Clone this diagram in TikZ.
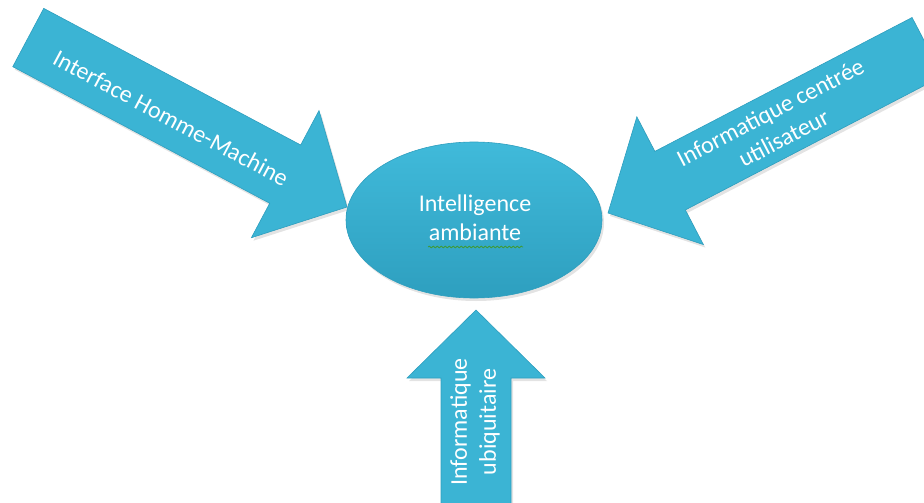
\documentclass[tikz,border=0pt]{standalone}
\usepackage{fontspec}
\setmainfont{Carlito}
\usetikzlibrary{shapes.geometric,shadows,decorations.pathmorphing}
\definecolor{arrowfill}{HTML}{3BB4D4}
\definecolor{arrowedge}{HTML}{2E9EBE}
\definecolor{elltop}{HTML}{40BADA}
\definecolor{ellbot}{HTML}{2E9FBF}
\definecolor{squig}{HTML}{3E9A3A}
\tikzset{
  blockarrow/.style={fill=arrowfill, draw=arrowedge, line width=0.6pt,
    drop shadow={opacity=0.22, shadow xshift=2pt, shadow yshift=-3pt}},
  lbl/.style={text=white, font=\fontsize{24}{29}\selectfont, align=center, inner sep=0pt},
}
\begin{document}
\begin{tikzpicture}[x=1pt,y=-1pt]
\useasboundingbox (0,0) rectangle (924,503);
\clip (0,0) rectangle (924,503);
% left arrow
\begin{scope}[shift={(347,207)}, rotate=-28]
  \path[blockarrow] (0,0) -- (-70,-72) -- (-70,-33) -- (-361,-33) -- (-361,33) -- (-70,33) -- (-70,72) -- cycle;
\end{scope}
% right arrow
\begin{scope}[shift={(608,213)}, rotate=180+27.5]
  \path[blockarrow] (0,0) -- (-70,-72) -- (-70,-33) -- (-360,-33) -- (-360,33) -- (-70,33) -- (-70,72) -- cycle;
\end{scope}
% bottom arrow
\begin{scope}[shift={(476,310)}, rotate=90]
  \path[blockarrow] (0,0) -- (-68,-69) -- (-68,-35) -- (-210,-35) -- (-210,35) -- (-68,35) -- (-68,69) -- cycle;
\end{scope}
% ellipse
\node[ellipse, minimum width=256pt, minimum height=156pt, top color=elltop, bottom color=ellbot,
  draw=arrowedge, line width=0.6pt, drop shadow={opacity=0.22, shadow xshift=2pt, shadow yshift=-3pt}]
  (ai) at (474,220) {};
\node[lbl] (aitxt) at (475,218) {Intelligence\\ambiante};
\coordinate (sqa) at (428,247);
\coordinate (sqb) at (523,247);
\draw[squig, line width=0.8pt, decorate, decoration={snake, amplitude=0.9pt, segment length=4pt}] (sqa) -- (sqb);
% labels
\node[lbl, rotate=-28] (hmi) at (171,118) {Interface Homme-Machine};
\node[lbl, rotate=27.5] (icu) at (777,125) {Informatique centrée\\utilisateur};
\node[lbl, rotate=90] (ubi) at (475,422) {Informatique\\ubiquitaire};
\end{tikzpicture}
\end{document}
